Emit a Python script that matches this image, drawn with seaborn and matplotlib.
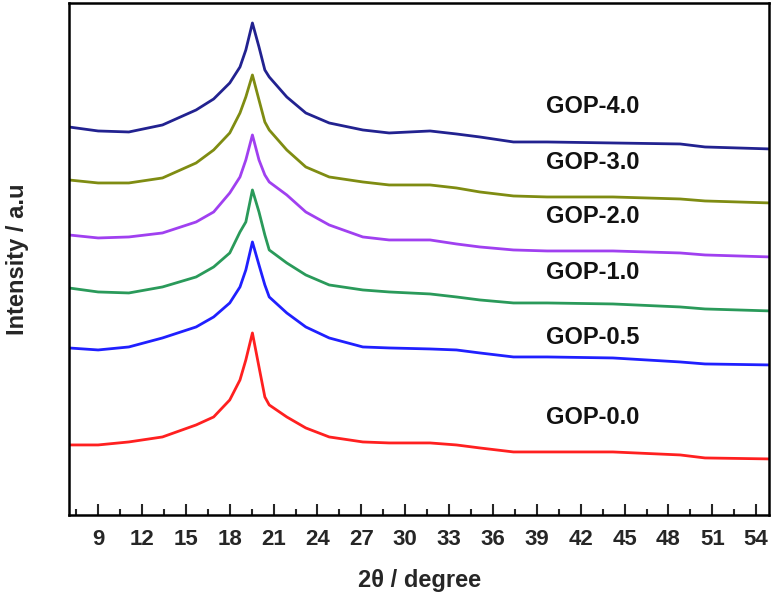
import matplotlib
matplotlib.use("Agg")
import matplotlib.pyplot as plt
from matplotlib.ticker import MultipleLocator
import seaborn as sns

# 2-theta grid (degree)
two_theta = [7.0, 9.0, 11.1, 13.4, 15.7, 16.9, 18.0, 18.7, 19.1, 19.55, 20.0,
             20.4, 20.7, 21.9, 23.2, 24.8, 27.1, 28.9, 31.7, 33.5, 35.1,
             37.4, 39.7, 44.2, 48.8, 50.5, 55.0]

# stacked intensities (a.u.), as displayed
gop_00 = [70, 70, 73, 78, 90, 98, 115, 135, 155, 182, 148,
          118, 110, 98, 87, 78, 73, 72, 72, 70, 67,
          63, 63, 63, 60, 57, 56]
gop_05 = [167, 165, 168, 177, 188, 198, 212, 228, 245, 273, 250,
          230, 218, 202, 188, 177, 168, 167, 166, 165, 162,
          158, 158, 157, 153, 151, 150]
gop_10 = [227, 223, 222, 228, 238, 248, 262, 283, 293, 325, 303,
          280, 265, 252, 240, 230, 225, 223, 221, 218, 215,
          212, 212, 211, 208, 206, 204]
gop_20 = [280, 277, 278, 282, 293, 303, 322, 338, 355, 380, 355,
          340, 333, 320, 303, 290, 278, 275, 275, 271, 268,
          265, 264, 264, 262, 260, 258]
gop_30 = [335, 332, 332, 337, 352, 365, 382, 402, 418, 440, 415,
          393, 385, 365, 348, 338, 333, 330, 330, 327, 323,
          319, 318, 318, 316, 314, 312]
gop_40 = [388, 384, 383, 390, 405, 416, 432, 448, 465, 492, 468,
          445, 438, 418, 402, 392, 385, 382, 384, 381, 378,
          373, 373, 372, 371, 368, 366]

series = [gop_00, gop_05, gop_10, gop_20, gop_30, gop_40]
labels = ["GOP-0.0", "GOP-0.5", "GOP-1.0", "GOP-2.0", "GOP-3.0", "GOP-4.0"]
label_y = [97, 177, 242, 298, 352, 408]
colors = ["#ff2020", "#2020ff", "#2a9a5a", "#a040f0", "#7f8c12", "#222290"]

sns.set_style("ticks")
plt.rcParams["font.family"] = ["Liberation Sans", "DejaVu Sans"]
plt.rcParams["font.weight"] = "bold"

fig = plt.figure(figsize=(7.74, 5.96), dpi=100)
ax = fig.add_axes([0.089, 0.136, 0.905, 0.859])

for vals, c in zip(series, colors):
    sns.lineplot(x=two_theta, y=vals, color=c, linewidth=2.0, ax=ax)

for lab, ly in zip(labels, label_y):
    ax.text(42.8, ly, lab, ha="center", va="center", fontsize=17,
            fontweight="bold", color="#111111")

ax.set_xlim(7.0, 54.9)
ax.set_ylim(0, 512)
ax.xaxis.set_major_locator(MultipleLocator(3))
ax.xaxis.set_minor_locator(MultipleLocator(1.5))
ax.set_yticks([])
ax.tick_params(axis="x", which="major", direction="in", length=8, width=1.5,
               labelsize=16, pad=10)
ax.tick_params(axis="x", which="minor", direction="in", length=4, width=1.5)
for sp in ax.spines.values():
    sp.set_linewidth(1.8)
    sp.set_color("black")

ax.set_xlabel("2θ / degree", fontsize=17, fontweight="bold", labelpad=14)
ax.set_ylabel("Intensity / a.u", fontsize=17, fontweight="bold", labelpad=29)

fig.savefig("out.png", dpi=100)
